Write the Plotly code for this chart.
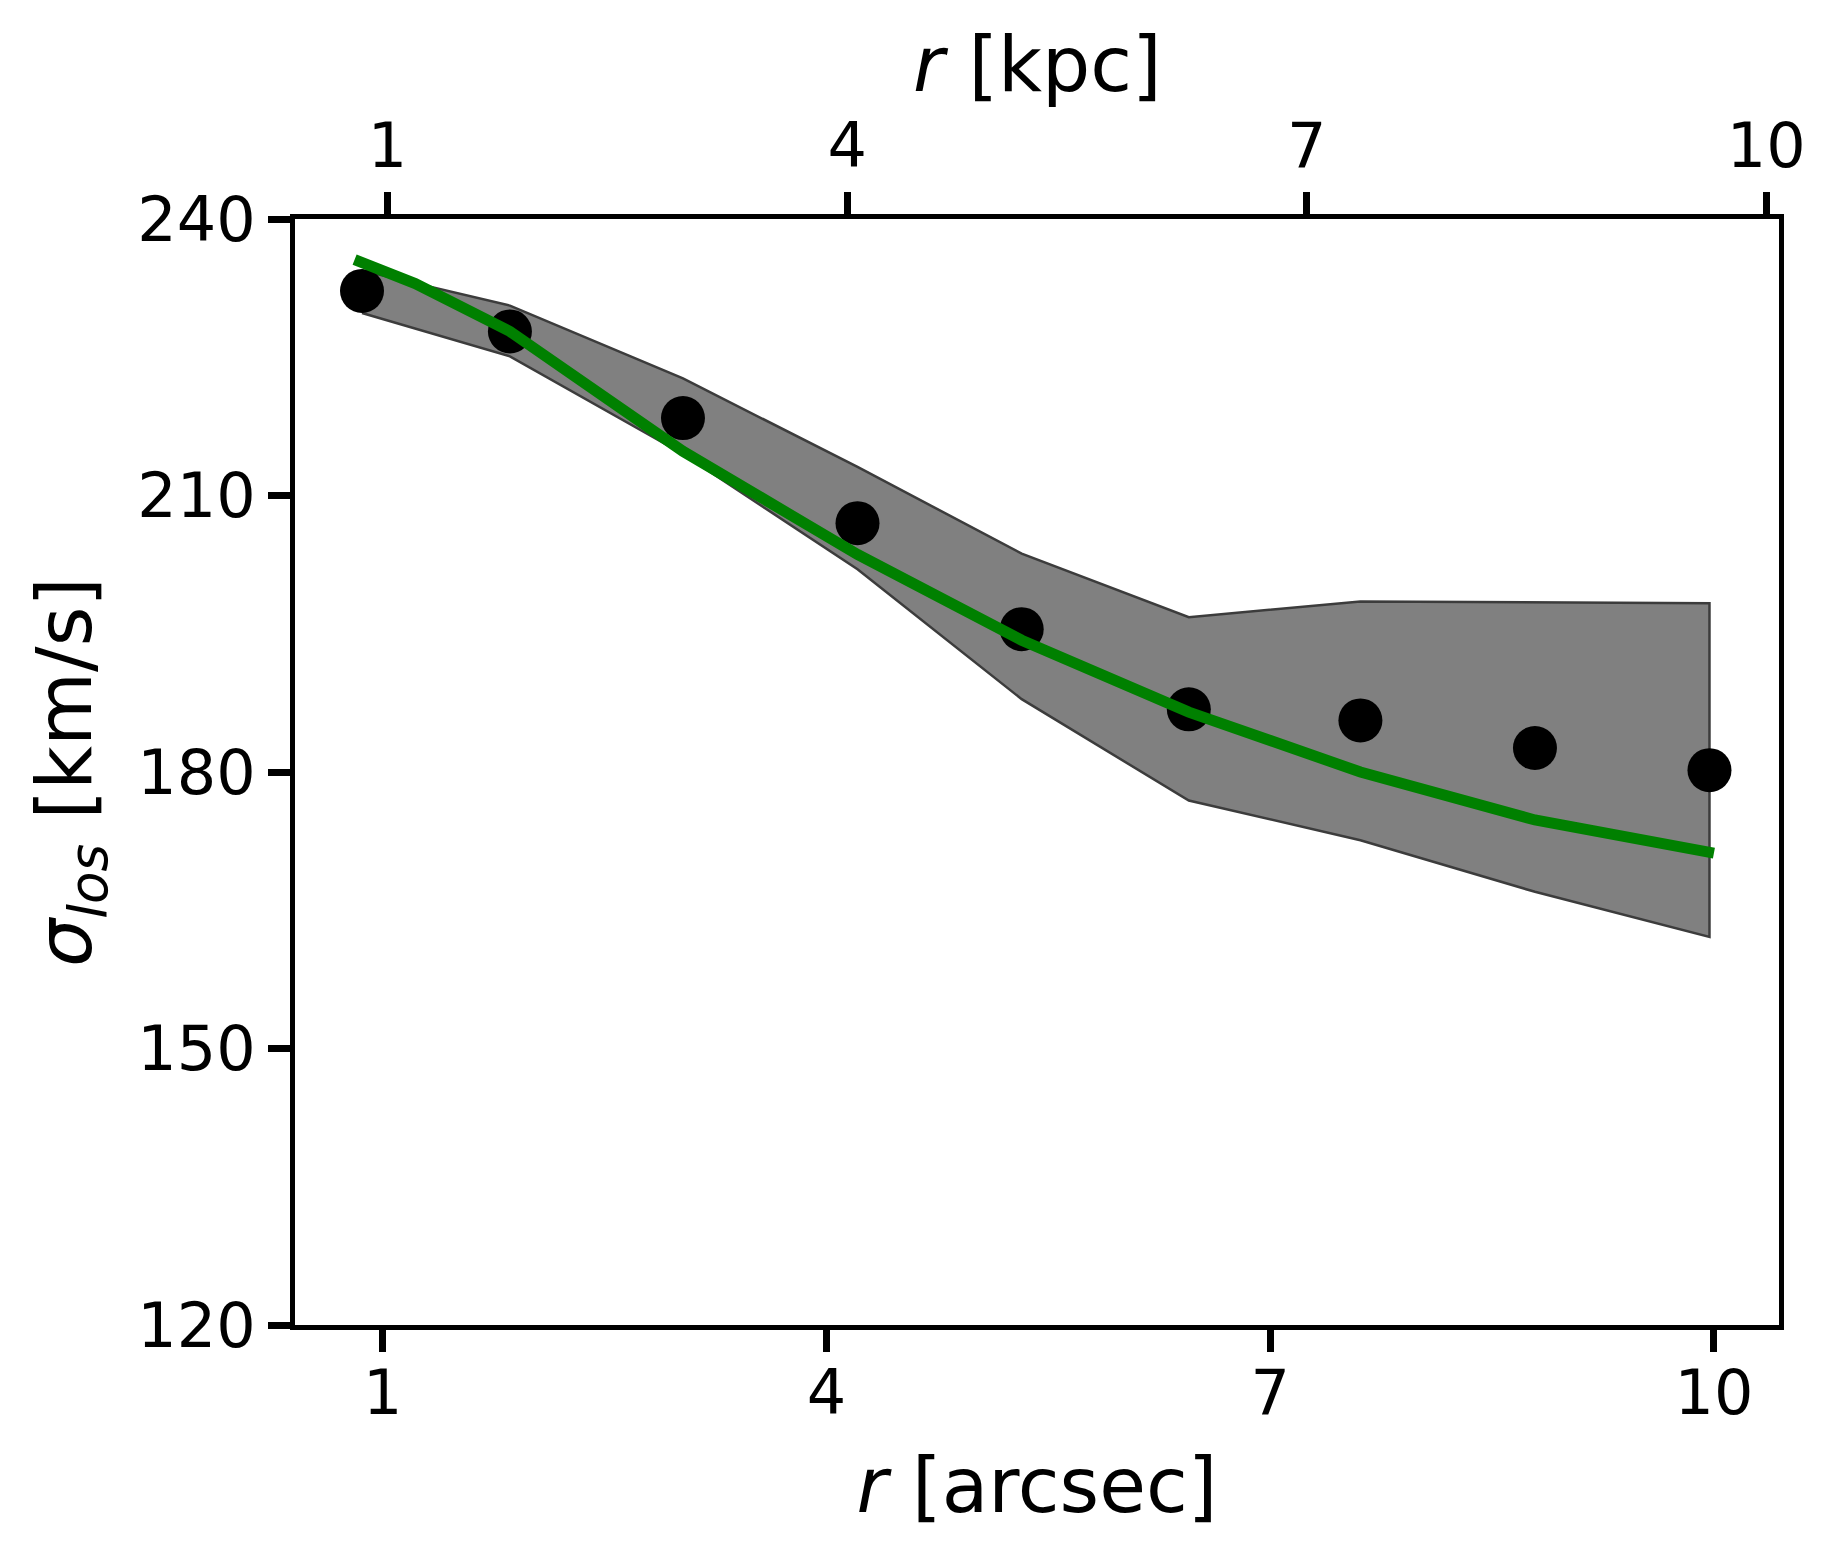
import plotly.graph_objects as go

# observed dispersion profile
r_obs = [0.86, 1.86, 3.03, 4.21, 5.32, 6.45, 7.61, 8.79, 9.97]
sigma_obs = [232.2, 227.8, 218.4, 207.0, 195.5, 186.8, 185.6, 182.6, 180.2]

# uncertainty band
sigma_hi = [234.4, 230.6, 222.7, 213.1, 203.7, 196.8, 198.5, 198.4, 198.3]
sigma_lo = [229.8, 225.1, 214.5, 202.0, 187.9, 176.9, 172.6, 167.0, 162.1]

# model curve
r_model = [0.81, 1.22, 1.86, 3.03, 4.21, 5.32, 6.45, 7.61, 8.79, 10.0]
sigma_model = [235.6, 233.0, 227.8, 214.8, 203.6, 194.3, 186.5, 180.0, 174.8, 171.2]

ticks = [1, 4, 7, 10]
yticks = [120, 150, 180, 210, 240]

FONT = "DejaVu Sans"

fig = go.Figure()

fig.add_trace(go.Scatter(
    x=r_obs + r_obs[::-1],
    y=sigma_hi + sigma_lo[::-1],
    fill="toself",
    fillcolor="rgb(128,128,128)",
    line=dict(color="rgb(60,60,60)", width=2.5),
    mode="lines",
    showlegend=False,
))

fig.add_trace(go.Scatter(
    x=r_obs, y=sigma_obs,
    mode="markers",
    marker=dict(color="black", size=44, line=dict(width=0)),
    showlegend=False,
))

fig.add_trace(go.Scatter(
    x=r_model, y=sigma_model,
    mode="lines",
    line=dict(color="rgb(0,128,0)", width=11),
    showlegend=False,
))

# empty trace so the top (kpc) axis gets drawn
fig.add_trace(go.Scatter(x=[], y=[], xaxis="x2", yaxis="y", showlegend=False, hoverinfo="skip"))

axis_common = dict(
    showgrid=False, zeroline=False,
    showline=True, linecolor="black", linewidth=5,
    ticks="outside", ticklen=22, tickwidth=7, tickcolor="black",
    tickfont=dict(family=FONT, size=62, color="black"),
)

fig.update_layout(
    width=1830, height=1550, autosize=False,
    margin=dict(l=287, r=59, t=211, b=233),
    paper_bgcolor="white", plot_bgcolor="white",
    font=dict(family=FONT, color="black"),
    xaxis=dict(
        range=[0.407, 10.44], tickvals=ticks, ticklabelstandoff=-12,
        title=dict(text="<i>r</i> [arcsec]", font=dict(size=76), standoff=32),
        **axis_common,
    ),
    xaxis2=dict(
        range=[0.396, 10.083], tickvals=ticks,
        overlaying="x", side="top", anchor="y",
        **axis_common,
    ),
    yaxis=dict(
        range=[120, 240], tickvals=yticks,
        mirror=True,
        title=dict(text="<i>σ</i><sub><i>los</i></sub> [km/s]", font=dict(size=76), standoff=22),
        **axis_common,
    ),
)

# top axis title (axis title gets clamped to the margin edge)
fig.add_annotation(
    text="<i>r</i> [kpc]", xref="paper", yref="paper", x=0.5, y=1,
    xanchor="center", yanchor="middle", yshift=155, showarrow=False,
    font=dict(family=FONT, size=76, color="black"),
)

fig.write_html("out.html")
